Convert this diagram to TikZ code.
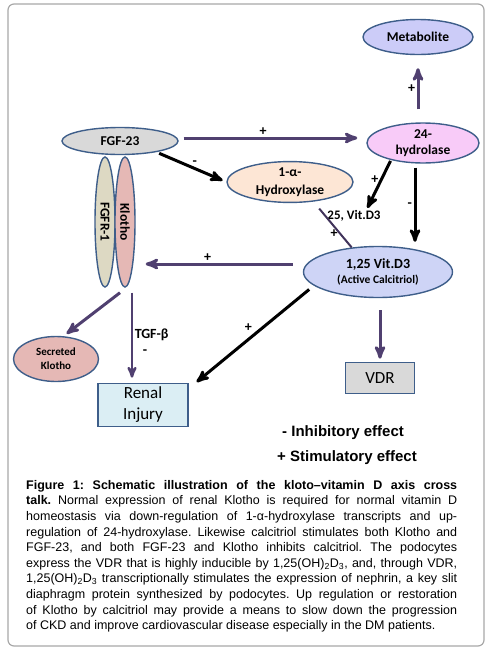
\documentclass[tikz,border=0pt]{standalone}
\usepackage{fontspec}
\usepackage{graphicx}
\setmainfont{Carlito}
\newfontfamily\arialfont{Liberation Sans}
\usetikzlibrary{arrows, positioning, shapes.geometric}
\definecolor{edgeblue}{HTML}{3E5E8A}
\definecolor{metfill}{HTML}{CCCCF8}
\definecolor{fgffill}{HTML}{D9D9D9}
\definecolor{h24fill}{HTML}{F8CBF8}
\definecolor{hydfill}{HTML}{FDE6D5}
\definecolor{vitfill}{HTML}{CED4F6}
\definecolor{fgfrfill}{HTML}{DDD9C3}
\definecolor{klofill}{HTML}{E5B8B5}
\definecolor{renfill}{HTML}{DBEEF4}
\definecolor{purp}{HTML}{504070}
\definecolor{framegray}{HTML}{A8A8A8}

\begin{document}
\begin{tikzpicture}[x=1pt,y=-1pt,>=stealth',auto,on grid,
  main node/.style={ellipse,draw=edgeblue,line width=1.4pt,inner sep=0pt,align=center,
    font=\bfseries\fontsize{13.5}{16}\selectfont},
  box node/.style={rectangle,draw=edgeblue,line width=1.7pt,align=center,
    font=\fontsize{17}{21}\selectfont},
  sign node/.style={inner sep=1.5pt,text=black,font=\bfseries\fontsize{14}{16}\selectfont},
  legend node/.style={anchor=west,inner sep=0pt,font=\arialfont\bfseries\fontsize{15}{18}\selectfont},
  pos arrow/.style={->,draw=purp,line width=3pt},
  neg arrow/.style={->,draw=black,line width=3pt},
  plain link/.style={-,draw=purp!80!black,line width=2pt}]
  \useasboundingbox (0,0) rectangle (486,651);
  \draw[rounded corners=6pt,draw=framegray,line width=1.2pt] (8,4) rectangle (484,646);

  \node[main node,fill=fgffill,minimum width=116pt,minimum height=27pt] (fgf) at (120,141) {FGF-23};
  \node[main node,fill=h24fill,minimum width=112pt,minimum height=40pt] (h24) [below right=2pt and 303pt of fgf] {24-\\hydrolase};
  \node[main node,fill=metfill,minimum width=110pt,minimum height=35pt] (met) [above left=106pt and 5pt of h24] {Metabolite};
  \node[main node,fill=hydfill,minimum width=126pt,minimum height=40pt,
    font=\bfseries\fontsize{13.5}{18}\selectfont] (hyd) [below right=41pt and 170pt of fgf] {1-α-\\Hydroxylase};
  \node[main node,fill=vitfill,minimum width=149pt,minimum height=51pt,
    font=\bfseries\fontsize{14}{15}\selectfont] (vit) [below right=90pt and 88pt of hyd]
    {1,25 Vit.D3\\{\fontsize{11.5}{14}\selectfont(Active Calcitriol)}};
  \node[sign node,font=\bfseries\fontsize{13}{15}\selectfont] (vit25) [above left=56pt and 24pt of vit] {25, Vit.D3};
  \node[main node,fill=fgfrfill,minimum width=20pt,minimum height=130pt] (fgfr) [below left=81pt and 15pt of fgf] {\rotatebox{-90}{FGFR-1}};
  \node[main node,fill=klofill,minimum width=20pt,minimum height=130pt] (klo) [right=20pt of fgfr] {\rotatebox{-90}{Klotho}};
  \node[main node,fill=klofill,minimum width=85pt,minimum height=45pt,
    font=\bfseries\fontsize{11}{14}\selectfont] (sec) [below left=137pt and 49pt of fgfr] {Secreted\\Klotho};
  \node[box node,fill=renfill,minimum width=90pt,minimum height=43pt] (ren) [below right=183pt and 18pt of klo] {Renal\\Injury};
  \node[box node,fill=fgffill,minimum width=69pt,minimum height=31pt] (vdr) [below right=106pt and 2pt of vit] {VDR};

  \node[legend node] (inh) at (282,433) {- Inhibitory effect};
  \node[legend node] (stim) at (277,458) {+ Stimulatory effect};

  \path
    ([yshift=3pt]fgf.east) edge[pos arrow,shorten <=5pt,shorten >=9pt] node[sign node,above,pos=.45]{+} ([yshift=3pt]fgf.east -| h24.west)
    ([xshift=-5pt]h24.north) edge[pos arrow,shorten <=13pt,shorten >=13pt] node[sign node,left]{+} ([xshift=-5pt]h24.north |- met.south)
    (fgf.-17) edge[neg arrow,shorten <=3pt,shorten >=4pt] node[sign node,above,pos=.55]{-} (hyd.west)
    (h24.208) edge[neg arrow,shorten <=1pt,shorten >=1pt] node[sign node,left,pos=.4]{+} ([xshift=13pt]vit25.north)
    ([xshift=-8pt]h24.south) edge[neg arrow,shorten <=4pt,shorten >=4pt] node[sign node,left]{-} ([xshift=-8pt]h24.south |- vit.north)
    (hyd.-40) edge[plain link,shorten <=9pt] node[sign node,left,pos=.7]{+} (vit.137)
    ([yshift=8pt]vit.west) edge[pos arrow,shorten <=10pt,shorten >=10pt] node[sign node,above,pos=.57]{+} ([yshift=8pt]vit.west -| klo.east)
    ([xshift=-5pt,yshift=-5pt]klo.south) edge[pos arrow,shorten >=4pt] (sec.72)
    ([xshift=7pt]klo.south) edge[pos arrow,line width=2.5pt,shorten <=5pt,shorten >=5pt]
      node[sign node,right,pos=.5]{TGF-β} node[sign node,right,pos=.68,xshift=8pt]{-} ([xshift=7pt]klo.south |- ren.north)
    (vit.192) edge[neg arrow,shorten <=6pt,shorten >=1pt] node[sign node,above left,pos=.5]{+} ([xshift=7pt]ren.north east)
    (vdr.north |- vit.south) edge[pos arrow,shorten <=12pt,shorten >=3pt] (vdr.north);

  \node[anchor=north west,inner sep=0pt,text width=431pt,align=justify,
    font=\arialfont\fontsize{12.5}{15.6}\selectfont\frenchspacing] (caption) at (26,480)
    {\textbf{Figure 1: Schematic illustration of the kloto–vitamin D axis cross}\linebreak
     \textbf{talk.} Normal expression of renal Klotho is required for normal vitamin D\linebreak
     homeostasis via down-regulation of 1-α-hydroxylase transcripts and up-\linebreak
     regulation of 24-hydroxylase. Likewise calcitriol stimulates both Klotho and\linebreak
     FGF-23, and both FGF-23 and Klotho inhibits calcitriol. The podocytes\linebreak
     express the VDR that is highly inducible by 1,25(OH)\textsubscript{2}D\textsubscript{3}, and, through VDR,\linebreak
     1,25(OH)\textsubscript{2}D\textsubscript{3} transcriptionally stimulates the expression of nephrin, a key slit\linebreak
     diaphragm protein synthesized by podocytes. Up regulation or restoration\linebreak
     of Klotho by calcitriol may provide a means to slow down the progression\linebreak
     of CKD and improve cardiovascular disease especially in the DM patients.};
\end{tikzpicture}
\end{document}
